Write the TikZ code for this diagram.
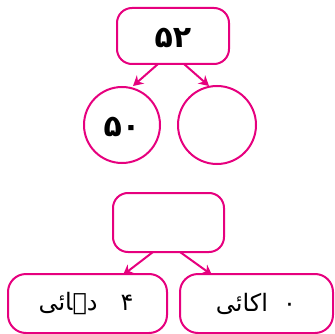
\documentclass[tikz,border=0pt]{standalone}
\usepackage{fontspec}
\usetikzlibrary{arrows.meta}
\TeXXeTstate=1
\newfontfamily\arabicfont[Script=Arabic]{DejaVu Sans}
\definecolor{mag}{HTML}{E6007E}
\begin{document}
\begin{tikzpicture}[x=1pt,y=-1pt,
  box/.style={draw=mag,line width=2pt,rounded corners=15pt,inner sep=0pt},
  circ/.style={draw=mag,line width=2pt,circle,inner sep=0pt,minimum size=76pt},
  arr/.style={draw=mag,line width=2pt,-{Stealth[length=10pt,width=11pt]}},
  num/.style={font=\arabicfont\bfseries\fontsize{30}{30}\selectfont},
  urdu/.style={font=\arabicfont\fontsize{24}{24}\selectfont}]
\useasboundingbox (0,0) rectangle (334,334);
\node[box,minimum width=112pt,minimum height=56pt] (top) at (173,36) {};
\node[num] (toptext) at (173,38) {۵۲};
\node[circ] (c1) at (122,125) {};
\node[num] (c1text) at (122,127) {۵۰};
\node[circ,minimum size=78pt] (c2) at (217,125) {};
\coordinate (t1) at (158,64);
\coordinate (t2) at (184,64);
\coordinate (h1) at (133,86);
\coordinate (h2) at (209,86);
\draw[arr] (t1) -- (h1);
\draw[arr] (t2) -- (h2);
\node[box,minimum width=111pt,minimum height=59pt] (mid) at (168.5,222.5) {};
\coordinate (m1) at (153,252);
\coordinate (m2) at (180,252);
\coordinate (h3) at (123,275);
\coordinate (h4) at (212,275);
\node[box,minimum width=159pt,minimum height=59pt,rounded corners=18pt] (bl) at (87.5,303.5) {};
\node[box,minimum width=153pt,minimum height=59pt,rounded corners=18pt] (br) at (256.5,303.5) {};
\draw[arr] (m1) -- (h3);
\draw[arr] (m2) -- (h4);
\node[urdu] (bltext) at (86,304) {\beginR ۴ \ \ دہائی\endR};
\node[urdu] (brtext) at (256,304) {\beginR ۰ \ اکائی\endR};
\end{tikzpicture}
\end{document}
